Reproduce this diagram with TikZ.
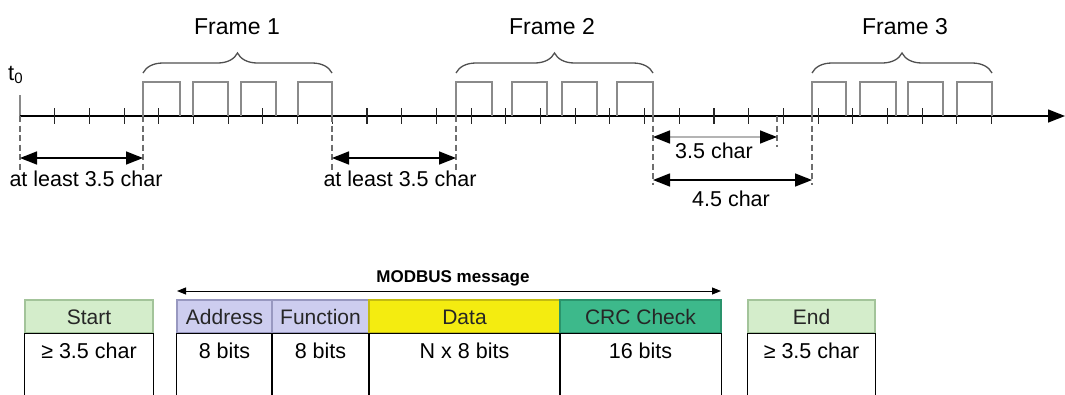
\documentclass[tikz,border=0pt]{standalone}
\usepackage{fontspec}
\setmainfont{Liberation Sans}
\usetikzlibrary{arrows.meta,decorations.pathreplacing}
\definecolor{pulsegray}{HTML}{8A8A8A}
\definecolor{guidegray}{HTML}{6E6E6E}
\definecolor{bracegray}{HTML}{505050}
\definecolor{lightspan}{HTML}{B4B4B4}
\definecolor{startfill}{HTML}{D4EDCB}
\definecolor{startedge}{HTML}{A3C49A}
\definecolor{lavfill}{HTML}{CDCDEF}
\definecolor{lavedge}{HTML}{9898C0}
\definecolor{datafill}{HTML}{F4EC10}
\definecolor{dataedge}{HTML}{C4BC10}
\definecolor{crcfill}{HTML}{3DB98B}
\definecolor{crcedge}{HTML}{2A946C}
\begin{document}
\begin{tikzpicture}[x=1pt,y=-1pt,
  axisline/.style={line width=1.4pt,black},
  pulse/.style={line width=1.3pt,pulsegray},
  tickmark/.style={line width=1.1pt,black!85},
  guide/.style={line width=1.2pt,guidegray,dash pattern=on 6pt off 3.5pt},
  span/.style={line width=1.5pt,{Triangle[length=17pt,width=13pt,color=black]}-{Triangle[length=17pt,width=13pt,color=black]}},
  framebrace/.style={decorate,decoration={brace,amplitude=20pt},line width=1.3pt,bracegray},
  lbl/.style={inner sep=0pt,anchor=base,font=\fontsize{21.5}{21.5}\selectfont},
  framelbl/.style={inner sep=0pt,anchor=base,font=\fontsize{23}{23}\selectfont},
  hdr/.style={draw,line width=1.2pt,minimum height=33pt,inner sep=0pt,
    text height=15pt,text depth=0pt,text=black!85,font=\fontsize{21}{21}\selectfont},
  bodyline/.style={line width=1.2pt,black},
]
\useasboundingbox (0,0) rectangle (1065,394);

% ---- time axis ----
\coordinate (t0) at (20,116);
\coordinate (axisend) at (1065,116);
\draw[pulse] (20,95) -- (t0);
\draw[axisline,-{Triangle[length=17pt,width=13pt]}] (t0) -- (axisend);
\node[inner sep=0pt,anchor=base west,font=\fontsize{22}{22}\selectfont] (t0lbl) at (8,80)
  {t\raisebox{-0.3ex}{\fontsize{15}{15}\selectfont 0}};

% character ticks
\foreach \k in {1,...,28}
  \draw[tickmark] ({20+34.7*\k},108) -- ({20+34.7*\k},124);

% character pulses of the three frames
\foreach \a/\b in {143/180,193/228,241/276,298/332,
                   456/492,512/547,562/597,617/653,
                   812/846,860/896,908/943,957/992}
  \draw[pulse] (\a,116) -- (\a,82) -- (\b,82) -- (\b,116);

% frame braces and titles
\coordinate (f1a) at (143,73); \coordinate (f1b) at (332,73);
\coordinate (f2a) at (456,73); \coordinate (f2b) at (653,73);
\coordinate (f3a) at (812,73); \coordinate (f3b) at (992,73);
\draw[framebrace] (f1a) -- (f1b);
\draw[framebrace] (f2a) -- (f2b);
\draw[framebrace] (f3a) -- (f3b);
\node[framelbl] (frame1) at (237,34) {Frame 1};
\node[framelbl] (frame2) at (552,34) {Frame 2};
\node[framelbl] (frame3) at (905,34) {Frame 3};

% guide lines down from the frame edges
\coordinate (g0) at (20,116);   \coordinate (g0e) at (20,170);
\coordinate (g1) at (143,116);  \coordinate (g1e) at (143,170);
\coordinate (g2) at (332,116);  \coordinate (g2e) at (332,170);
\coordinate (g3) at (456,116);  \coordinate (g3e) at (456,170);
\coordinate (g4) at (653,116);  \coordinate (g4e) at (653,185);
\coordinate (g5) at (777,116);  \coordinate (g5e) at (777,147);
\coordinate (g6) at (812,116);  \coordinate (g6e) at (812,185);
\foreach \g in {0,...,6} \draw[guide] (g\g) -- (g\g e);

% silent intervals
\coordinate (s1a) at (20,158);  \coordinate (s1b) at (143,158);
\coordinate (s2a) at (332,158); \coordinate (s2b) at (456,158);
\coordinate (s3a) at (653,137); \coordinate (s3b) at (777,137);
\coordinate (s4a) at (653,180); \coordinate (s4b) at (812,180);
\draw[span] (s1a) -- (s1b);
\draw[span] (s2a) -- (s2b);
\draw[span,lightspan] (s3a) -- (s3b);
\draw[span] (s4a) -- (s4b);
\node[lbl] (least1) at (86,186) {at least 3.5 char};
\node[lbl] (least2) at (400,186) {at least 3.5 char};
\node[lbl] (c35) at (714,158) {3.5 char};
\node[lbl] (c45) at (731,206) {4.5 char};

% ---- RTU message layout ----
\node[hdr,draw=startedge,fill=startfill,minimum width=128pt] (start) at (89,316.5) {Start};
\node[hdr,draw=lavedge,fill=lavfill,minimum width=95pt] (addr) at (224.5,316.5) {Address};
\node[hdr,draw=lavedge,fill=lavfill,minimum width=97pt] (func) at (320.5,316.5) {Function};
\node[hdr,draw=dataedge,fill=datafill,minimum width=191pt] (data) at (464.5,316.5) {Data};
\node[hdr,draw=crcedge,fill=crcfill,minimum width=161pt] (crc) at (640.5,316.5) {CRC Check};
\node[hdr,draw=startedge,fill=startfill,minimum width=127pt] (end) at (811.5,316.5) {End};

% open-bottom columns under the headers
\draw[bodyline] (start.south west) -- (start.south east);
\draw[bodyline] (start.south west) -- ++(0,70);
\draw[bodyline] (start.south east) -- ++(0,70);
\draw[bodyline] (addr.south west) -- (crc.south east);
\foreach \n in {addr,func,data,crc} {
  \draw[bodyline] (\n.south west) -- ++(0,70);
  \draw[bodyline] (\n.south east) -- ++(0,70);
}
\draw[bodyline] (end.south west) -- (end.south east);
\draw[bodyline] (end.south west) -- ++(0,70);
\draw[bodyline] (end.south east) -- ++(0,70);

\node[lbl] (startv) at (89,358) {≥ 3.5 char};
\node[lbl] (addrv) at (224.5,358) {8 bits};
\node[lbl] (funcv) at (320.5,358) {8 bits};
\node[lbl] (datav) at (464.5,358) {N x 8 bits};
\node[lbl] (crcv) at (640.5,358) {16 bits};
\node[lbl] (endv) at (811.5,358) {≥ 3.5 char};

% message extent
\coordinate (ma) at (177,291);
\coordinate (mb) at (721,291);
\draw[line width=1pt,{Triangle[length=9pt,width=7pt]}-{Triangle[length=9pt,width=7pt]}] (ma) -- (mb);
\node[inner sep=0pt,anchor=base,font=\bfseries\fontsize{17}{17}\selectfont] (msg) at (453,282) {MODBUS message};
\end{tikzpicture}
\end{document}
